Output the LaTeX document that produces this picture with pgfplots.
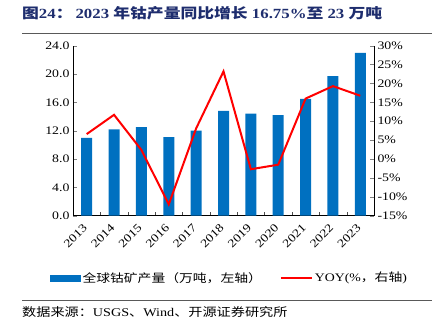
\documentclass[border=0pt]{standalone}
\usepackage{pgfplots}
\pgfplotsset{compat=1.18}
\usepackage{fontspec}
\setmainfont{Liberation Serif}[FakeStretch=1.2]
\newfontfamily\cjk{Noto Sans CJK SC}[FakeStretch=1.2]
\definecolor{barblue}{RGB}{0,112,192}
\definecolor{titleblue}{RGB}{30,45,110}
\begin{document}
\begin{tikzpicture}[x=1pt,y=1pt]
\useasboundingbox (0,0) rectangle (440,328);
\node[anchor=base west, inner sep=0, text=titleblue, font=\bfseries\fontsize{14}{16}\selectfont] at (22,309)
  {{\cjk\bfseries 图}24{\cjk\bfseries ：}\hspace{3pt}2023 {\cjk\bfseries 年钴产量同比增长} 16.75\%{\cjk\bfseries 至} 23 {\cjk\bfseries 万吨}};
\draw[black!65, line width=0.8pt] (22,295) -- (432,295);
\draw[black!65, line width=0.8pt] (22,27.3) -- (432,27.3);
\node[anchor=base west, inner sep=0, font=\fontsize{11.8}{13}\selectfont] at (22,11)
  {{\cjk 数据来源：}USGS{\cjk 、}Wind{\cjk 、开源证券研究所}};
\begin{axis}[
  at={(73pt,112.3pt)}, anchor=south west, scale only axis,
  width=301pt, height=170pt,
  xmin=-0.5, xmax=10.5, ymin=0, ymax=24,
  axis x line*=bottom, axis y line*=left,
  axis line style={-, black, line width=0.8pt},
  xtick={0,1,2,3,4,5,6,7,8,9,10},
  xticklabels={2013,2014,2015,2016,2017,2018,2019,2020,2021,2022,2023},
  minor xtick={-0.5,0.5,1.5,2.5,3.5,4.5,5.5,6.5,7.5,8.5,9.5,10.5},
  major x tick style={draw=none},
  minor x tick style={draw=black!70},
  ytick={0,4,8,12,16,20,24},
  yticklabel style={/pgf/number format/.cd, fixed, fixed zerofill, precision=1},
  tick align=inside, major tick length=4pt, minor tick length=4pt,
  xticklabel style={rotate=45, anchor=east, inner sep=2pt},
  xticklabel shift=9pt,
  tick label style={font=\fontsize{11.5}{12}\selectfont},
  /pgf/number format/assume math mode=true,
]
\addplot[ybar, bar width=11pt, fill=barblue, draw=none] coordinates {
 (0,11.0) (1,12.2) (2,12.5) (3,11.1) (4,12.0) (5,14.8) (6,14.4) (7,14.2) (8,16.5) (9,19.7) (10,23.0)};
\end{axis}
\begin{axis}[
  at={(73pt,112.3pt)}, anchor=south west, scale only axis,
  width=301pt, height=170pt,
  xmin=-0.5, xmax=10.5, ymin=-15, ymax=30,
  hide x axis, axis y line*=right,
  axis line style={-, black, line width=0.8pt},
  ytick={-15,-10,-5,0,5,10,15,20,25,30},
  yticklabel={\pgfmathprintnumber{\tick}\%},
  tick align=inside, major tick length=4pt,
  tick label style={font=\fontsize{11.5}{12}\selectfont},
  /pgf/number format/assume math mode=true,
  legend columns=2,
  legend style={draw=none, fill=none, at={(0.52,-0.366)}, anchor=center,
    font=\fontsize{11.5}{12}\selectfont,
    /tikz/every even column/.append style={column sep=16pt}},
]
\addlegendimage{legend image code/.code={\fill[barblue] (0pt,-3pt) rectangle (30pt,3pt);}}
\addlegendentry{{\cjk 全球钴矿产量（万吨，左轴）}}
\addplot[red, line width=2pt, legend image code/.code={\draw[red,line width=2pt] (0pt,0pt) -- (31pt,0pt);}] coordinates {
 (0,6.6) (1,11.7) (2,2.4) (3,-12.0) (4,8.1) (5,23.2) (6,-2.7) (7,-1.5) (8,16.0) (9,19.3) (10,16.75)};
\addlegendentry{YOY(\%{\cjk ，右轴})}
\end{axis}
\end{tikzpicture}
\end{document}
